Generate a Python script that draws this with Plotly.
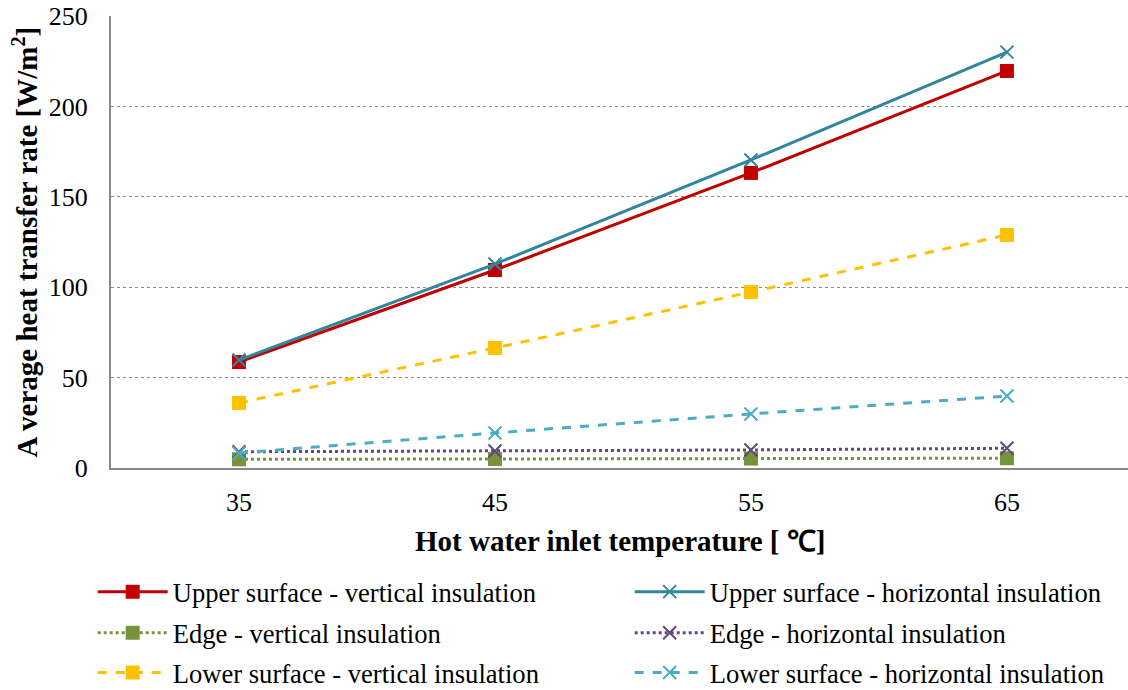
import plotly.graph_objects as go

# Hot water inlet temperature categories (°C)
temps = ["35", "45", "55", "65"]

# Average heat transfer rate [W/m²]
upper_vertical = [58.6, 109.5, 163.2, 219.6]
upper_horizontal = [59.7, 112.8, 170.4, 230.0]
edge_vertical = [4.8, 5.0, 5.2, 5.4]
edge_horizontal = [9.0, 9.4, 10.0, 10.9]
lower_vertical = [36.0, 66.4, 97.3, 128.9]
lower_horizontal = [8.3, 19.4, 29.9, 39.8]

y_ticks = [0, 50, 100, 150, 200, 250]

FONT = "Liberation Serif"

series = [
    # name, values, color, dash, marker symbol, marker size, legend row
    ("Upper surface - vertical insulation", upper_vertical, "#C00000", "solid", "square", 14, "legend"),
    ("Upper surface - horizontal insulation", upper_horizontal, "#31859C", "solid", "x-thin", 13, "legend"),
    ("Edge - vertical insulation", edge_vertical, "#77933C", "dot", "square", 14, "legend2"),
    ("Edge - horizontal insulation", edge_horizontal, "#604A7B", "dot", "x-thin", 13, "legend2"),
    ("Lower surface - vertical insulation", lower_vertical, "#FFC000", "dash", "square", 14, "legend3"),
    ("Lower surface - horizontal insulation", lower_horizontal, "#4BACC6", "dash", "x-thin", 13, "legend3"),
]

fig = go.Figure()
for name, vals, color, dash, symbol, size, leg in series:
    marker = dict(symbol=symbol, size=size, color=color)
    if symbol == "x-thin":
        marker["line"] = dict(color=color, width=2)
    fig.add_trace(go.Scatter(
        x=temps, y=vals, name=name, mode="lines+markers",
        line=dict(color=color, width=3, dash=dash),
        marker=marker, legend=leg,
    ))

legend_common = dict(
    orientation="h", xanchor="left", yanchor="middle",
    font=dict(family=FONT, size=26.6, color="#000000"),
    entrywidth=452, entrywidthmode="pixels",
    bgcolor="rgba(0,0,0,0)", itemwidth=70,
)

fig.update_layout(
    width=1128, height=690,
    margin=dict(l=111, r=0, t=16, b=222, autoexpand=False),
    plot_bgcolor="#FFFFFF", paper_bgcolor="#FFFFFF",
    font=dict(family=FONT, size=26, color="#000000"),
    showlegend=True,
    legend=dict(x=-0.018, y=-0.274, **legend_common),
    legend2=dict(x=-0.018, y=-0.365, **legend_common),
    legend3=dict(x=-0.018, y=-0.453, **legend_common),
    xaxis=dict(
        type="category", range=[-0.5, 3.473],
        showgrid=False, zeroline=False,
        showline=True, linecolor="#898989", linewidth=2,
        ticks="", ticklabelstandoff=10,
        tickfont=dict(family=FONT, size=26),
    ),
    yaxis=dict(
        range=[0, 250], tickvals=y_ticks,
        showgrid=True, gridcolor="#8C8C8C", gridwidth=1, griddash="dot",
        zeroline=False,
        showline=True, linecolor="#898989", linewidth=2,
        ticks="", ticklabelstandoff=16,
        tickfont=dict(family=FONT, size=26),
    ),
    annotations=[
        dict(text="<b>Hot water inlet temperature [ ℃]</b>",
             xref="paper", yref="paper", x=0.5, y=-0.162,
             xanchor="center", yanchor="middle", showarrow=False,
             font=dict(family=FONT, size=29)),
        dict(text="<b>A verage heat transfer rate [W/m<sup>2</sup>]</b>",
             xref="paper", yref="paper", x=-0.085, y=0.5,
             xanchor="center", yanchor="middle", showarrow=False,
             textangle=-90, font=dict(family=FONT, size=29)),
    ],
)

fig.write_html("out.html")
